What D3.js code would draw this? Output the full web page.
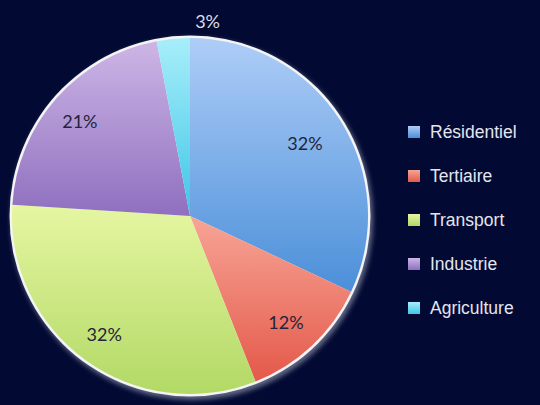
<!DOCTYPE html>
<html>
<head>
<meta charset="utf-8">
<script src="https://cdn.jsdelivr.net/npm/d3@7"></script>
<style>
  html, body { margin: 0; padding: 0; background: #020a33; }
  svg { display: block; }
</style>
</head>
<body>
<svg id="chart" width="540" height="405"></svg>
<script>
// Energy consumption share by sector
const categories = ["Résidentiel", "Tertiaire", "Transport", "Industrie", "Agriculture"];
const values = [32, 12, 32, 21, 3];
const labels = ["32%", "12%", "32%", "21%", "3%"];
const topColors = ["#aecdf7", "#f7a596", "#e6f6a2", "#cdb6e6", "#a8eefa"];
const bottomColors = ["#4b8fd9", "#e4594a", "#b2d965", "#8f6fbf", "#3ec6e6"];

const W = 540, H = 405;
const cx = 190, cy = 216, R = 178;

const svg = d3.select("#chart");
svg.append("rect").attr("width", W).attr("height", H).attr("fill", "#020a33");

const defs = svg.append("defs");
categories.forEach((c, i) => {
  const g = defs.append("linearGradient")
    .attr("id", "grad" + i)
    .attr("x1", 0).attr("y1", 0).attr("x2", 0).attr("y2", 1);
  g.append("stop").attr("offset", "0%").attr("stop-color", topColors[i]);
  g.append("stop").attr("offset", "100%").attr("stop-color", bottomColors[i]);
});
const shadow = defs.append("filter").attr("id", "shadow")
  .attr("x", "-20%").attr("y", "-20%").attr("width", "140%").attr("height", "140%");
shadow.append("feGaussianBlur").attr("stdDeviation", 2.5);

const pie = d3.pie().sort(null).value(d => d)(values);
const arc = d3.arc().innerRadius(0).outerRadius(R);

const g = svg.append("g").attr("transform", `translate(${cx},${cy})`);

// soft rim shadow and white rim
g.append("circle").attr("cx", 2).attr("cy", 3).attr("r", R + 3)
  .attr("fill", "#8a8fa8").attr("opacity", 0.7).attr("filter", "url(#shadow)");
g.append("circle").attr("r", R + 2.5).attr("fill", "#f4f4f6");

g.selectAll("path.slice")
  .data(pie)
  .join("path")
  .attr("class", "slice")
  .attr("d", arc)
  .attr("fill", (d, i) => `url(#grad${i})`);

// percentage labels: radius as a fraction of R, plus a small horizontal nudge
const labelRadius = [0.765, 0.82, 0.82, 0.81, 1.1];
const labelNudge = [0, -4, 0, -2, 36];
const labelArc = d3.arc();
pie.forEach((d, i) => {
  const r = R * labelRadius[i];
  const [x, y] = labelArc.innerRadius(r).outerRadius(r).centroid(d);
  const outside = i === 4;
  g.append("text")
    .attr("x", x + labelNudge[i]).attr("y", y)
    .attr("text-anchor", "middle").attr("dominant-baseline", "central")
    .attr("font-family", "Lato, 'Open Sans', sans-serif")
    .attr("font-size", 18)
    .attr("fill", outside ? "#dcdde6" : "#24243a")
    .text(labels[i]);
});

// legend
const legendY = d3.scalePoint().domain(categories).range([132, 308]);
const legend = svg.append("g");
categories.forEach((c, i) => {
  const y = legendY(c);
  legend.append("rect")
    .attr("x", 408).attr("y", y - 6).attr("width", 12).attr("height", 12)
    .attr("fill", `url(#grad${i})`);
  legend.append("text")
    .attr("x", 430).attr("y", y)
    .attr("dominant-baseline", "central")
    .attr("font-family", "'Liberation Sans', Arial, sans-serif")
    .attr("font-size", 17.5)
    .attr("fill", "#e4e5ee")
    .text(c);
});
</script>
</body>
</html>
